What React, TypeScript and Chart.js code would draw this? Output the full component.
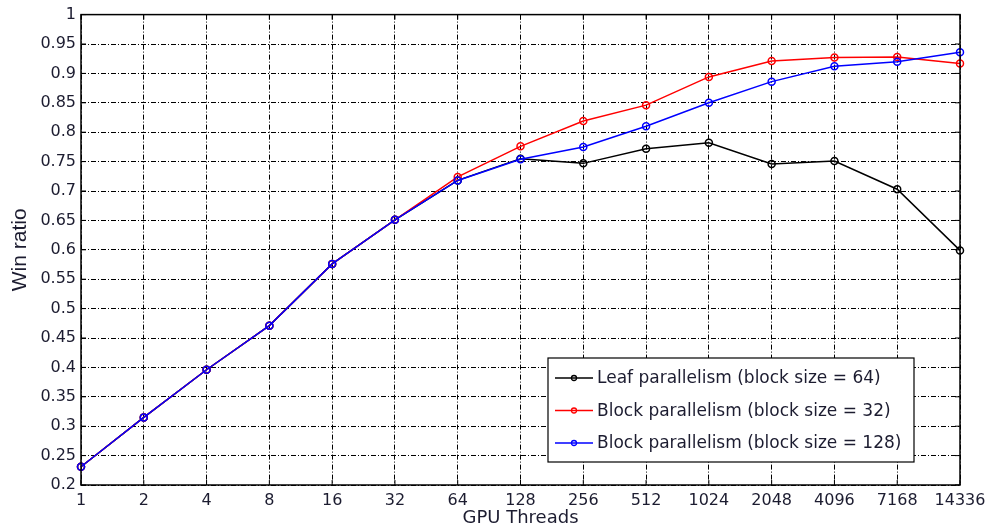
import React, { useEffect, useRef } from "react";
import { Chart, registerables } from "chart.js";

Chart.register(...registerables);

const threads = ["1", "2", "4", "8", "16", "32", "64", "128", "256", "512", "1024", "2048", "4096", "7168", "14336"];
const leafBlock64 = [0.231, 0.315, 0.396, 0.471, 0.576, 0.651, 0.718, 0.755, 0.747, 0.772, 0.782, 0.746, 0.751, 0.703, 0.599];
const block32 = [0.231, 0.315, 0.396, 0.471, 0.576, 0.651, 0.724, 0.776, 0.819, 0.846, 0.894, 0.921, 0.927, 0.928, 0.917];
const block128 = [0.231, 0.315, 0.396, 0.471, 0.576, 0.651, 0.718, 0.754, 0.775, 0.810, 0.850, 0.886, 0.912, 0.920, 0.936];
const seriesNames = [
  "Leaf parallelism (block size = 64)",
  "Block parallelism (block size = 32)",
  "Block parallelism (block size = 128)",
];
const seriesColors = ["#000000", "#ff0000", "#0000ff"];

const TICK_FONT = "'DejaVu Sans', sans-serif";
const TITLE_FONT = "'Liberation Sans', Arial, sans-serif";
const TEXT_COLOR = "#1c1c30";

const framePlugin = {
  id: "frame",
  afterDatasetsDraw(chart: any) {
    const { ctx, chartArea, scales } = chart;
    const { left, right, top, bottom } = chartArea;
    ctx.save();
    ctx.strokeStyle = "#000";
    ctx.setLineDash([]);
    ctx.lineWidth = 1;
    const tl = 5;
    ctx.beginPath();
    scales.y.ticks.forEach((t: any) => {
      const y = scales.y.getPixelForValue(t.value);
      ctx.moveTo(left, y); ctx.lineTo(left + tl, y);
      ctx.moveTo(right, y); ctx.lineTo(right - tl, y);
    });
    scales.x.ticks.forEach((_t: any, i: number) => {
      const x = scales.x.getPixelForTick(i);
      ctx.moveTo(x, bottom); ctx.lineTo(x, bottom - tl);
      ctx.moveTo(x, top); ctx.lineTo(x, top + tl);
    });
    ctx.stroke();
    ctx.lineWidth = 1.5;
    ctx.strokeRect(left, top, right - left, bottom - top);
    ctx.restore();
  },
};

const legendPlugin = {
  id: "boxLegend",
  afterDraw(chart: any) {
    const { ctx } = chart;
    const x0 = 548, y0 = 358, w = 366, h = 104;
    ctx.save();
    ctx.fillStyle = "#fff";
    ctx.fillRect(x0, y0, w, h);
    ctx.strokeStyle = "#000";
    ctx.lineWidth = 1.2;
    ctx.strokeRect(x0, y0, w, h);
    ctx.font = `17px ${TICK_FONT}`;
    ctx.textBaseline = "middle";
    ctx.textAlign = "left";
    seriesNames.forEach((name, i) => {
      const y = y0 + 20 + i * 32.5;
      ctx.strokeStyle = seriesColors[i];
      ctx.lineWidth = 1.3;
      ctx.beginPath();
      ctx.moveTo(x0 + 7, y);
      ctx.lineTo(x0 + 45, y);
      ctx.stroke();
      ctx.beginPath();
      ctx.arc(x0 + 26, y, 2.5, 0, Math.PI * 2);
      ctx.stroke();
      ctx.fillStyle = TEXT_COLOR;
      ctx.fillText(name, x0 + 49, y + 1);
    });
    ctx.restore();
  },
};

export default function App() {
  const ref = useRef<HTMLCanvasElement>(null);
  useEffect(() => {
    if (!ref.current) return;
    const mk = (label: string, data: number[], color: string, order: number) => ({
      label,
      data,
      borderColor: color,
      backgroundColor: color,
      borderWidth: 1.5,
      pointRadius: 3.5,
      pointBorderWidth: 1.5,
      pointBackgroundColor: "transparent",
      pointBorderColor: color,
      tension: 0,
      order,
    });
    const chart = new Chart(ref.current, {
      type: "line",
      data: {
        labels: threads,
        datasets: [
          mk(seriesNames[0], leafBlock64, seriesColors[0], 2),
          mk(seriesNames[1], block32, seriesColors[1], 1),
          mk(seriesNames[2], block128, seriesColors[2], 0),
        ],
      },
      options: {
        animation: false,
        responsive: false,
        maintainAspectRatio: false,
        layout: { padding: { left: 0, top: 13, right: 32, bottom: 0 } },
        plugins: { legend: { display: false }, tooltip: { enabled: false } },
        scales: {
          x: {
            offset: false,
            grid: { color: "#000", lineWidth: 1, tickLength: 0, drawTicks: false },
            border: { display: false, dash: [5, 2, 1, 2] },
            ticks: { color: TEXT_COLOR, font: { family: TICK_FONT, size: 16 }, padding: 6, maxRotation: 0, autoSkip: false },
            title: { display: true, text: "GPU Threads", color: TEXT_COLOR, font: { family: TICK_FONT, size: 18 }, padding: { top: 0, bottom: 1 } },
            afterFit(scale: any) { scale.height = 45; },
          },
          y: {
            min: 0.2,
            max: 1,
            grid: { color: "#000", lineWidth: 1, tickLength: 0, drawTicks: false },
            border: { display: false, dash: [5, 2, 1, 2] },
            ticks: {
              stepSize: 0.05,
              color: TEXT_COLOR,
              font: { family: TICK_FONT, size: 16 },
              padding: 5,
              callback: (v: any) => String(Math.round(Number(v) * 100) / 100),
            },
            title: { display: true, text: "Win ratio", color: TEXT_COLOR, font: { family: TITLE_FONT, size: 21 }, padding: { top: 8, bottom: 0 } },
            afterFit(scale: any) { scale.width = 81; },
          },
        },
      },
      plugins: [framePlugin, legendPlugin],
    } as any);
    return () => chart.destroy();
  }, []);
  return (
    <div style={{ position: "absolute", left: 0, top: 0, width: 992, height: 530, background: "#fff" }}>
      <canvas ref={ref} width={992} height={530} style={{ width: 992, height: 530 }} />
    </div>
  );
}
